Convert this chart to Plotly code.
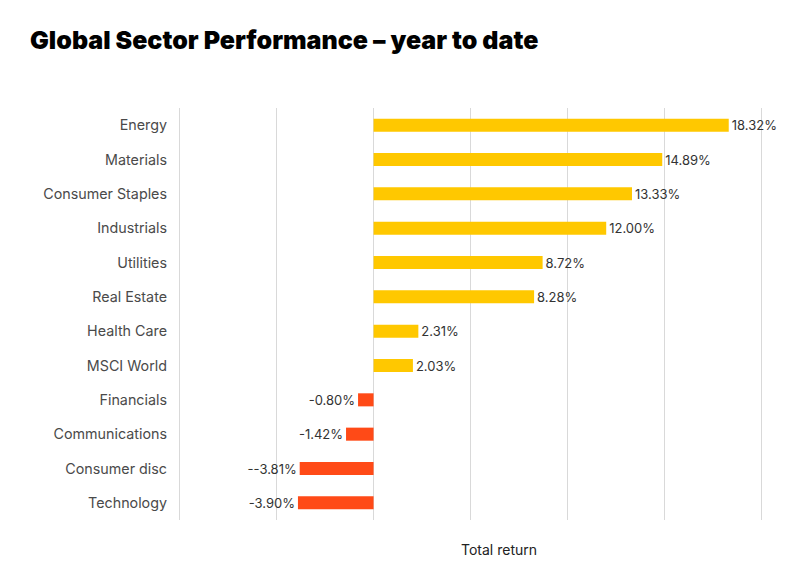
import plotly.graph_objects as go

# Data
sectors = ["Energy", "Materials", "Consumer Staples", "Industrials", "Utilities",
           "Real Estate", "Health Care", "MSCI World", "Financials",
           "Communications", "Consumer disc", "Technology"]
returns = [18.32, 14.89, 13.33, 12.00, 8.72, 8.28, 2.31, 2.03, -0.80, -1.42, -3.81, -3.90]
labels = ["18.32%", "14.89%", "13.33%", "12.00%", "8.72%", "8.28%", "2.31%", "2.03%",
          "-0.80%", "-1.42%", "--3.81%", "-3.90%"]
grid_vals = [-10, -5, 0, 5, 10, 15, 20]

YELLOW = "#FFC800"
RED = "#FF4A17"
GRID = "#D9D9D9"
colors = [YELLOW if v >= 0 else RED for v in returns]

fig = go.Figure()
fig.add_trace(go.Bar(
    x=returns,
    y=sectors,
    orientation="h",
    marker=dict(color=colors, line=dict(width=0)),
    width=0.38,
    text=labels,
    textposition="outside",
    constraintext="none",
    cliponaxis=False,
    textfont=dict(family="Inter, Open Sans, sans-serif", size=13, color="#333333"),
    hoverinfo="x+y",
))

# plot area spans -10.5 .. 20.5 so the -10 and 20 gridlines are not dropped at the edges
x0, x1 = -10.5, 20.5
px_per = (761 - 180) / 30.0
left = 180 - 0.5 * px_per
right = 800 - (761 + 0.5 * px_per)

fig.update_layout(
    width=800, height=581,
    paper_bgcolor="white", plot_bgcolor="white",
    margin=dict(l=left, r=right, t=108, b=61, autoexpand=False),
    showlegend=False,
    font=dict(family="Inter, Open Sans, sans-serif", color="#444444"),
    title=dict(
        text="Global Sector Performance – year to date",
        x=30 / 800, xanchor="left", y=1 - 40 / 581, yanchor="middle",
        font=dict(family="Inter, sans-serif", size=25, weight=900, color="#000000"),
    ),
    xaxis=dict(
        range=[x0, x1],
        tickvals=grid_vals,
        showticklabels=False,
        showgrid=True, gridcolor=GRID, gridwidth=1,
        zeroline=True, zerolinecolor=GRID, zerolinewidth=1,
        showline=False, fixedrange=True, automargin=False,
    ),
    yaxis=dict(
        autorange="reversed",
        showgrid=False, showline=False, ticks="",
        ticklabelstandoff=2, automargin=False,
        tickfont=dict(family="Inter, Open Sans, sans-serif", size=14.3, color="#4A4A4A"),
    ),
    annotations=[dict(
        text="Total return", xref="paper", yref="paper",
        x=(499 - left) / (800 - left - right), y=-29 / 412.0, xanchor="center", yanchor="middle",
        showarrow=False,
        font=dict(family="Inter, Open Sans, sans-serif", size=14, color="#222222"),
    )],
)

# drop the default 8px page margin so the figure sits at the window's corner
fig.write_html("out.html", config={"displayModeBar": False},
               post_script="document.body.style.margin='0';")
